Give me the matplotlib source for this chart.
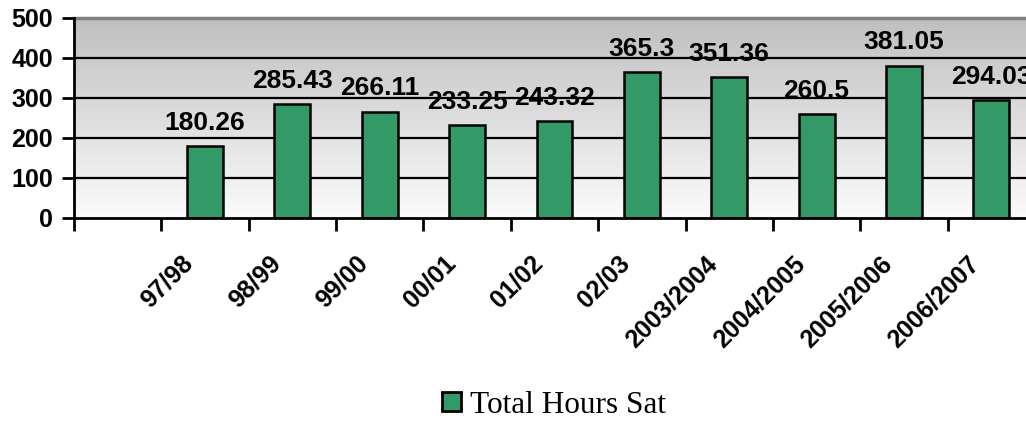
import numpy as np
import matplotlib.pyplot as plt
from matplotlib.patches import Patch
from matplotlib.transforms import ScaledTranslation

# data (first category slot is empty)
seasons = ["", "97/98", "98/99", "99/00", "00/01", "01/02", "02/03",
           "2003/2004", "2004/2005", "2005/2006", "2006/2007"]
hours = [None, 180.26, 285.43, 266.11, 233.25, 243.32, 365.3,
         351.36, 260.5, 381.05, 294.03]
y_ticks = [0, 100, 200, 300, 400, 500]

bar_color = "#339966"
sans = "Liberation Sans"
serif = "Liberation Serif"

fig = plt.figure(figsize=(10.26, 4.21), dpi=100)
ax = fig.add_axes([74 / 1026, 1 - 218 / 421, 961 / 1026, 200 / 421])

x = np.arange(len(seasons))
xs = [i for i, h in zip(x, hours) if h is not None]
hs = [h for h in hours if h is not None]

# gradient plot area: gray at top, near white at bottom
grad = np.linspace(0.75, 0.985, 256).reshape(-1, 1)
ax.imshow(np.dstack([grad, grad, grad]), extent=[0, 1, 0, 1], transform=ax.transAxes,
          aspect="auto", origin="upper", zorder=0)

ax.set_xlim(-0.5, len(seasons) - 0.5)
ax.set_ylim(0, 500)

for t in y_ticks[1:-1]:
    ax.axhline(t, color="black", lw=1.6, zorder=1)
ax.axhline(500, color="#808080", lw=2.5, zorder=1, clip_on=False)

bars = ax.bar(xs, hs, width=0.41, color=bar_color, edgecolor="black",
              linewidth=1.8, zorder=2, label="Total Hours Sat")
ax.bar_label(bars, labels=[f"{h:g}" for h in hs], padding=8,
             fontsize=19, fontweight="bold", fontfamily=sans, zorder=3)

for s in ["top", "right"]:
    ax.spines[s].set_visible(False)
ax.spines["left"].set_linewidth(2)
ax.spines["bottom"].set_linewidth(2)
ax.spines["left"].set_zorder(4)
ax.spines["bottom"].set_zorder(4)

ax.set_yticks(y_ticks)
ax.set_yticklabels([str(t) for t in y_ticks], fontsize=18, fontweight="bold", fontfamily=sans)
ax.tick_params(axis="y", length=9, width=2, pad=6)

ax.set_xticks(x)
ax.set_xticklabels(seasons, rotation=45, ha="right", va="top", rotation_mode="anchor",
                   fontsize=18, fontweight="bold", fontfamily=sans)
ax.set_xticks(np.arange(-0.5, len(seasons)), minor=True)
ax.tick_params(axis="x", which="major", length=0, pad=24)
ax.tick_params(axis="x", which="minor", length=9, width=2)
shift = ScaledTranslation(-24 / 100, 0, fig.dpi_scale_trans)
for lbl in ax.get_xticklabels():
    lbl.set_transform(lbl.get_transform() + shift)

handle = Patch(facecolor=bar_color, edgecolor="black", linewidth=2)
fig.legend([handle], ["Total Hours Sat"], loc="center", bbox_to_anchor=(0.54, 0.038),
           frameon=False, prop={"family": serif, "size": 22.5},
           handlelength=0.6, handleheight=0.6, handletextpad=0.3)

fig.savefig("out.png", dpi=100)
